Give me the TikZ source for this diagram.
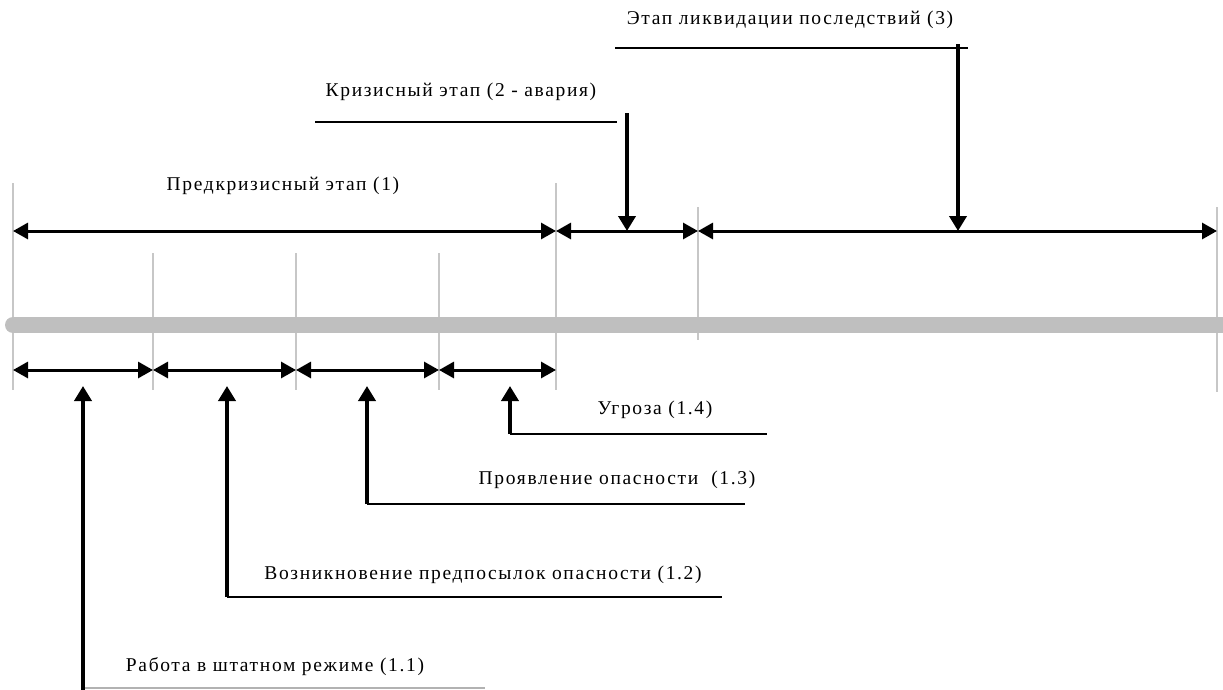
\documentclass[tikz,border=0pt]{standalone}
\usepackage{fontspec}
\setmainfont{Liberation Serif}[LetterSpace=8.5]
\usetikzlibrary{arrows.meta}
\begin{document}
\begin{tikzpicture}[x=1pt,y=-1pt,
  tick/.style={draw=black!22, line width=1.5pt},
  bar/.style={draw=black!25, line width=16pt, line cap=round},
  dim/.style={line width=3pt, {Triangle[length=15pt,width=16pt]}-{Triangle[length=15pt,width=16pt]}},
  callout/.style={line width=4pt, -{Triangle[length=15pt,width=17pt]}},
  leader/.style={line width=2pt},
  lbl/.style={inner sep=0pt, font=\fontsize{19.5}{22}\selectfont}]
\useasboundingbox (0,0) rectangle (1223,689);
% ticks
\coordinate (t0a) at (13,183);   \coordinate (t0b) at (13,390);
\coordinate (t1a) at (153,253);  \coordinate (t1b) at (153,390);
\coordinate (t2a) at (296,253);  \coordinate (t2b) at (296,390);
\coordinate (t3a) at (439,253);  \coordinate (t3b) at (439,390);
\coordinate (t4a) at (556,183);  \coordinate (t4b) at (556,390);
\coordinate (t5a) at (698,207);  \coordinate (t5b) at (698,340);
\coordinate (t6a) at (1217,207); \coordinate (t6b) at (1217,392);
\foreach \i in {0,...,6} {\draw[tick] (t\i a) -- (t\i b);}
% gray bar
\coordinate (barL) at (13,325); \coordinate (barR) at (1240,325);
\draw[bar] (barL) -- (barR);
% top dimension arrows
\coordinate (a0) at (13,231);  \coordinate (a1) at (556,231);
\coordinate (a2) at (698,231); \coordinate (a3) at (1217,231);
\draw[dim] (a0) -- (a1);
\draw[dim] (a1) -- (a2);
\draw[dim] (a2) -- (a3);
% bottom dimension arrows
\coordinate (b0) at (13,370);  \coordinate (b1) at (153,370);
\coordinate (b2) at (296,370); \coordinate (b3) at (439,370);
\coordinate (b4) at (556,370);
\draw[dim] (b0) -- (b1);
\draw[dim] (b1) -- (b2);
\draw[dim] (b2) -- (b3);
\draw[dim] (b3) -- (b4);
% labels
\node[lbl] (l3)  at (790,20)  {Этап ликвидации последствий (3)};
\node[lbl] (l2)  at (461,92)  {Кризисный этап (2 - авария)};
\node[lbl] (l1)  at (283,186) {Предкризисный этап (1)};
\node[lbl] (l14) at (655,410) {Угроза (1.4)};
\node[lbl] (l13) at (617,480) {Проявление опасности~~(1.3)};
\node[lbl] (l12) at (483,575) {Возникновение предпосылок опасности (1.2)};
\node[lbl] (l11) at (275,667) {Работа в штатном режиме (1.1)};
% top callouts
\coordinate (h3a) at (615,48);  \coordinate (h3b) at (968,48);
\coordinate (v3)  at (958,44);  \coordinate (p3)  at (958,231);
\draw[leader] (h3a) -- (h3b);
\draw[callout] (v3) -- (p3);
\coordinate (h2a) at (315,122); \coordinate (h2b) at (617,122);
\coordinate (v2)  at (627,113); \coordinate (p2)  at (627,231);
\draw[leader] (h2a) -- (h2b);
\draw[callout] (v2) -- (p2);
% bottom callouts
\coordinate (c14) at (510,434); \coordinate (e14) at (767,434); \coordinate (p14) at (510,386);
\draw[leader] (c14) -- (e14);
\draw[callout] (c14) -- (p14);
\coordinate (c13) at (367,504); \coordinate (e13) at (745,504); \coordinate (p13) at (367,386);
\draw[leader] (c13) -- (e13);
\draw[callout] (c13) -- (p13);
\coordinate (c12) at (227,597); \coordinate (e12) at (722,597); \coordinate (p12) at (227,386);
\draw[leader] (c12) -- (e12);
\draw[callout] (c12) -- (p12);
\coordinate (c11) at (83,688); \coordinate (e11) at (485,688); \coordinate (s11) at (83,695); \coordinate (p11) at (83,386);
\draw[leader, draw=black!30] (c11) -- (e11);
\draw[callout] (s11) -- (p11);
\end{tikzpicture}
\end{document}
